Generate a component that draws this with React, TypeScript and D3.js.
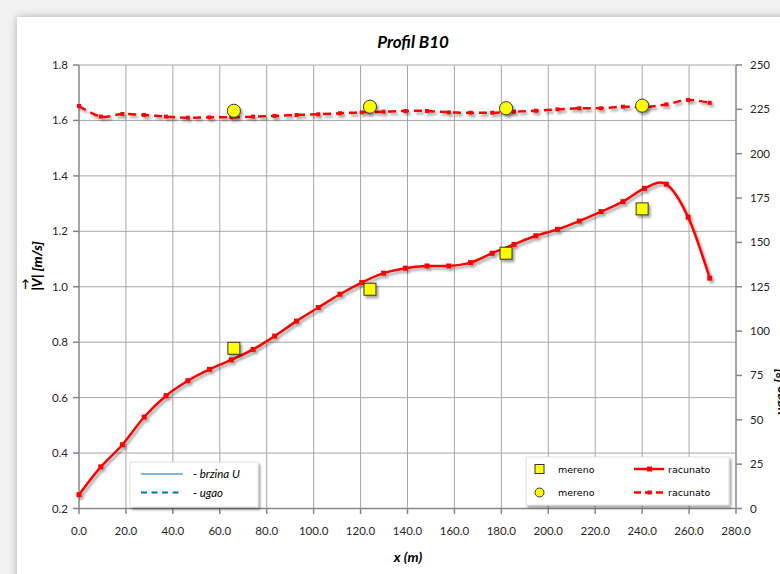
import React from "react";
import * as d3 from "d3";

// ---- data ----
const X_CALC = [0, 9.3, 18.5, 27.8, 37.1, 46.4, 55.6, 64.9, 74.2, 83.4, 92.7, 102.0, 111.2, 120.5, 129.8, 139.1, 148.3, 157.6, 166.9, 176.1, 185.4, 194.7, 203.9, 213.2, 222.5, 231.8, 241.0, 250.3, 259.6, 268.8];
const SPEED_CALC = [0.25, 0.35, 0.43, 0.53, 0.607, 0.661, 0.702, 0.736, 0.774, 0.822, 0.876, 0.925, 0.973, 1.015, 1.049, 1.067, 1.075, 1.075, 1.087, 1.121, 1.153, 1.184, 1.207, 1.237, 1.271, 1.307, 1.355, 1.37, 1.251, 1.031];
const ANGLE_CALC = [226.9, 220.9, 222.4, 221.8, 220.9, 220.3, 220.5, 220.5, 220.9, 221.3, 221.8, 222.2, 222.8, 223.3, 223.7, 224.1, 224.1, 223.3, 223.1, 223.1, 223.7, 224.2, 225.0, 225.6, 225.6, 226.5, 226.2, 227.8, 230.3, 228.7];
const X_MEAS = [66, 124, 182, 240];
const SPEED_MEAS = [0.778, 0.991, 1.121, 1.281];
const ANGLE_MEAS = [224.2, 226.5, 225.6, 227.1];

const X_TICKS = [0, 20, 40, 60, 80, 100, 120, 140, 160, 180, 200, 220, 240, 260, 280];
const YL_TICKS = [0.2, 0.4, 0.6, 0.8, 1.0, 1.2, 1.4, 1.6, 1.8];
const YR_TICKS = [0, 25, 50, 75, 100, 125, 150, 175, 200, 225, 250];

const TITLE = "Profil B10";
const X_TITLE = "x (m)";
const YL_TITLE = "|V| [m/s]";
const YR_TITLE = "ugao [°]";

const FONT = "Lato, 'Open Sans', sans-serif";
const LFONT = "'DejaVu Sans', Verdana, sans-serif";

export default function App() {
  const W = 780, H = 574;
  const x = d3.scaleLinear().domain([0, 280]).range([79, 736]);
  const yL = d3.scaleLinear().domain([0.2, 1.8]).range([508.5, 65]);
  const yR = d3.scaleLinear().domain([0, 250]).range([508.5, 65]);

  const speedPts: [number, number][] = X_CALC.map((v, i) => [x(v), yL(SPEED_CALC[i])]);
  const anglePts: [number, number][] = X_CALC.map((v, i) => [x(v), yR(ANGLE_CALC[i])]);
  const line = d3.line().curve(d3.curveCardinal.tension(0));
  const grid = "#a6a6a6";
  const axis = "#868686";
  const red = "#ff0000";

  return (
    <svg width={W} height={H} style={{ position: "absolute", left: 0, top: 0 }} xmlns="http://www.w3.org/2000/svg">
      <defs>
        <filter id="boxsh" filterUnits="userSpaceOnUse" x={-20} y={-20} width={W + 40} height={H + 40}>
          <feDropShadow dx="0" dy="0" stdDeviation="4" floodColor="#000" floodOpacity="0.3" />
        </filter>
        <filter id="sh" filterUnits="userSpaceOnUse" x={0} y={0} width={W} height={H}>
          <feDropShadow dx="2" dy="2.5" stdDeviation="1.3" floodColor="#000" floodOpacity="0.35" />
        </filter>
      </defs>
      <rect x={0} y={0} width={W} height={H} fill="#f2f2f2" />
      <rect x={17} y={17} width={W} height={H} fill="#ffffff" filter="url(#boxsh)" />

      {/* grid */}
      {X_TICKS.slice(1, -1).map((t) => (
        <line key={"gx" + t} x1={x(t)} x2={x(t)} y1={65} y2={508.5} stroke={grid} strokeWidth={1} />
      ))}
      {YL_TICKS.slice(1).map((t) => (
        <line key={"gy" + t} x1={79} x2={736} y1={yL(t)} y2={yL(t)} stroke={grid} strokeWidth={1} />
      ))}

      {/* axes */}
      <line x1={79} x2={79} y1={65} y2={508.5} stroke={axis} strokeWidth={1.5} />
      <line x1={736} x2={736} y1={65} y2={508.5} stroke={axis} strokeWidth={1.5} />
      <line x1={79} x2={736} y1={508.5} y2={508.5} stroke={axis} strokeWidth={1.5} />
      {YL_TICKS.map((t) => (
        <g key={"yl" + t}>
          <line x1={73} x2={79} y1={yL(t)} y2={yL(t)} stroke={axis} strokeWidth={1.5} />
          <text x={68} y={yL(t) + 4} textAnchor="end" fontFamily={FONT} fontSize={11.5} fill="#262626">{t.toFixed(1)}</text>
        </g>
      ))}
      {YR_TICKS.map((t) => (
        <g key={"yr" + t}>
          <line x1={736} x2={742} y1={yR(t)} y2={yR(t)} stroke={axis} strokeWidth={1.5} />
          <text x={750} y={yR(t) + 4} textAnchor="start" fontFamily={FONT} fontSize={11.5} fill="#262626">{t}</text>
        </g>
      ))}
      {X_TICKS.map((t) => (
        <g key={"xt" + t}>
          <line x1={x(t)} x2={x(t)} y1={508.5} y2={514} stroke={axis} strokeWidth={1.5} />
          <text x={x(t)} y={535} textAnchor="middle" fontFamily={FONT} fontSize={11.5} fill="#262626">{t.toFixed(1)}</text>
        </g>
      ))}

      {/* titles */}
      <text x={413} y={48} textAnchor="middle" fontFamily={FONT} fontSize={17} fontWeight="bold" fontStyle="italic" fill="#000">{TITLE}</text>
      <text x={408} y={562} textAnchor="middle" fontFamily={FONT} fontSize={14} fontWeight="bold" fontStyle="italic" fill="#000">{X_TITLE}</text>
      <g transform="translate(42,266) rotate(-90)">
        <text x={0} y={0} textAnchor="middle" fontFamily={FONT} fontSize={14} fontWeight="900" fontStyle="italic" fill="#000">{YL_TITLE}</text>
        <text x={-18} y={-13} textAnchor="middle" fontFamily={FONT} fontSize={11} fontWeight="bold" fill="#000">→</text>
      </g>
      <g transform="translate(785,392) rotate(-90)">
        <text x={0} y={0} textAnchor="middle" fontFamily={FONT} fontSize={14} fontWeight="bold" fontStyle="italic" fill="#000">{YR_TITLE}</text>
      </g>

      {/* series: angle calculated (dashed) */}
      <g filter="url(#sh)">
        <path d={line(anglePts) || ""} fill="none" stroke={red} strokeWidth={2.5} strokeDasharray="8 5" />
        {anglePts.map((p, i) => (
          <rect key={"am" + i} x={p[0] - 2} y={p[1] - 2} width={4} height={4} fill={red} />
        ))}
      </g>
      {/* series: speed calculated (solid) */}
      <g filter="url(#sh)">
        <path d={line(speedPts) || ""} fill="none" stroke={red} strokeWidth={2.5} />
        {speedPts.map((p, i) => (
          <rect key={"sm" + i} x={p[0] - 2.5} y={p[1] - 2.5} width={5} height={5} fill={red} />
        ))}
      </g>
      {/* measured */}
      <g filter="url(#sh)">
        {X_MEAS.map((v, i) => (
          <rect key={"ms" + i} x={x(v) - 6} y={yL(SPEED_MEAS[i]) - 6} width={12} height={12} fill="#ffff00" stroke="#333" strokeWidth={1} />
        ))}
        {X_MEAS.map((v, i) => (
          <circle key={"mc" + i} cx={x(v)} cy={yR(ANGLE_MEAS[i])} r={6.6} fill="#ffff00" stroke="#333" strokeWidth={1} />
        ))}
      </g>

      {/* left legend */}
      <rect x={130} y={462} width={128} height={45} fill="#fff" stroke="#d9d9d9" strokeWidth={0.8} filter="url(#sh)" />
      <line x1={141} x2={183} y1={474} y2={474} stroke="#5b9bd5" strokeWidth={1.5} />
      <text x={193} y={478} fontFamily={FONT} fontSize={11.5} fontStyle="italic" fill="#000">- brzina U</text>
      <line x1={141} x2={183} y1={492.5} y2={492.5} stroke="#0070c0" strokeWidth={2} strokeDasharray="6 4.5" />
      <text x={193} y={496.5} fontFamily={FONT} fontSize={11.5} fontStyle="italic" fill="#000">- ugao</text>

      {/* right legend */}
      <rect x={526} y={457} width={203} height={48} fill="#fff" stroke="#d9d9d9" strokeWidth={0.8} filter="url(#sh)" />
      <rect x={535} y={464.5} width={9} height={9} fill="#ffff00" stroke="#333" strokeWidth={1} />
      <text x={558} y={472.5} fontFamily={LFONT} fontSize={9.5} fill="#000">mereno</text>
      <line x1={634} x2={664} y1={469} y2={469} stroke={red} strokeWidth={2.5} />
      <rect x={647} y={466.5} width={5} height={5} fill={red} />
      <text x={668} y={472.5} fontFamily={LFONT} fontSize={9.5} fill="#000">racunato</text>
      <circle cx={539.5} cy={492.5} r={4.5} fill="#ffff00" stroke="#333" strokeWidth={1} />
      <text x={558} y={496} fontFamily={LFONT} fontSize={9.5} fill="#000">mereno</text>
      <line x1={634} x2={664} y1={492.5} y2={492.5} stroke={red} strokeWidth={2.5} strokeDasharray="7 4" />
      <rect x={647.5} y={490.5} width={4} height={4} fill={red} />
      <text x={668} y={496} fontFamily={LFONT} fontSize={9.5} fill="#000">racunato</text>
    </svg>
  );
}
